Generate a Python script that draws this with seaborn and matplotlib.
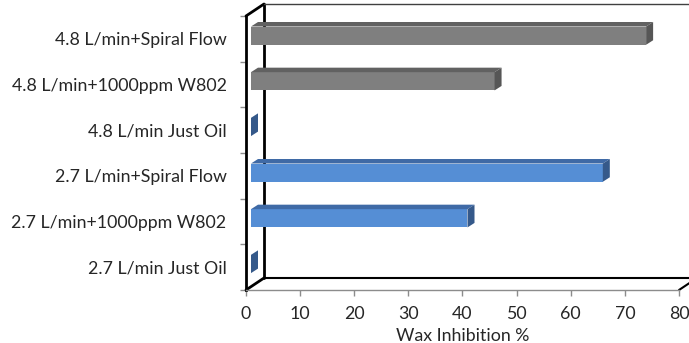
import matplotlib
matplotlib.use("Agg")
import matplotlib.pyplot as plt
from matplotlib.patches import Polygon
from matplotlib.lines import Line2D
from matplotlib.transforms import ScaledTranslation
import seaborn as sns
import pandas as pd

# Data (top to bottom as displayed)
categories = [
    "4.8 L/min+Spiral Flow",
    "4.8 L/min+1000ppm W802",
    "4.8 L/min Just Oil",
    "2.7 L/min+Spiral Flow",
    "2.7 L/min+1000ppm W802",
    "2.7 L/min Just Oil",
]
inhibition = [73, 45, 0, 65, 40, 0]
x_ticks = [0, 10, 20, 30, 40, 50, 60, 70, 80]

# Face colours per bar: front, top, side
front_colors = ["#7F7F7F", "#7F7F7F", "#558ED5", "#558ED5", "#558ED5", "#558ED5"]
top_colors = ["#616161", "#616161", "#3F6AA6", "#3F6AA6", "#3F6AA6", "#3F6AA6"]
side_colors = ["#565656", "#565656", "#35598A", "#35598A", "#35598A", "#35598A"]

DPI = 100
FS = 12.8
sns.set_theme(style="white")
plt.rcParams["font.family"] = ["Lato", "DejaVu Sans"]

fig = plt.figure(figsize=(6.89, 3.43), dpi=DPI)
W, H = 689, 343
ax_left, ax_right, ax_top, ax_bottom = 246, 679, 16, 290
ax = fig.add_axes([ax_left / W, 1 - ax_bottom / H,
                   (ax_right - ax_left) / W, (ax_bottom - ax_top) / H])

df = pd.DataFrame({"category": categories, "value": inhibition})
sns.barplot(data=df, x="value", y="category", hue="category",
            palette=dict(zip(categories, front_colors)), order=categories,
            orient="h", width=0.4, dodge=False, legend=False,
            saturation=1, ax=ax, linewidth=0)

ax.set_xlim(0, 80)
ax.set_ylim(len(categories) - 0.5, -0.5)
ax.set_xticks(x_ticks)
ax.set_xticklabels([str(t) for t in x_ticks])

# 3-D depth: full wall depth and bar placement within it (pixels)
depth = (18, 12)
front_off = (5, 3.2)
bar_depth = (7, 4.5)

to_disp = ax.transData.transform
to_data = ax.transData.inverted().transform
shift = ScaledTranslation(front_off[0] / DPI, front_off[1] / DPI, fig.dpi_scale_trans)

for p in list(ax.patches):
    x0, y0, w, h = p.get_x(), p.get_y(), p.get_width(), p.get_height()
    idx = int(round(y0 + h / 2))
    (xa, ya), (xb, yb) = to_disp([(x0, y0), (x0 + w, y0 + h)])
    left, right = min(xa, xb) + front_off[0], max(xa, xb) + front_off[0]
    bottom, top = min(ya, yb) + front_off[1], max(ya, yb) + front_off[1]
    bx, by = bar_depth
    top_face = [(left, top), (right, top), (right + bx, top + by), (left + bx, top + by)]
    side_face = [(right, bottom), (right + bx, bottom + by), (right + bx, top + by), (right, top)]
    ax.add_patch(Polygon(to_data(top_face), closed=True, facecolor=top_colors[idx],
                         edgecolor="none", clip_on=False, zorder=3))
    ax.add_patch(Polygon(to_data(side_face), closed=True, facecolor=side_colors[idx],
                         edgecolor="none", clip_on=False, zorder=3))
    p.set_transform(ax.transData + shift)
    p.set_clip_on(False)
    p.set_zorder(3)

# Wall / floor frame in axes fractions
aw, ah = ax_right - ax_left, ax_bottom - ax_top
dx, dy = depth[0] / aw, depth[1] / ah
frame = [
    ([dx, dx], [dy, 1 + dy], "black", 2.0),
    ([0, dx], [1, 1 + dy], "black", 2.0),
    ([0, dx], [0, dy], "black", 2.0),
    ([dx, 1.1], [1 + dy, 1 + dy], "#404040", 1.0),
    ([dx, 1 + dx], [dy, dy], "black", 1.5),
    ([1, 1 + dx], [0, dy], "black", 1.5),
]
for xs, ys, c, lw in frame:
    ax.add_line(Line2D(xs, ys, transform=ax.transAxes, color=c, lw=lw,
                       clip_on=False, zorder=1))

for side in ["top", "right"]:
    ax.spines[side].set_visible(False)
ax.spines["left"].set_color("black")
ax.spines["left"].set_linewidth(2.0)
ax.spines["bottom"].set_color("#8C8C8C")
ax.spines["bottom"].set_linewidth(1.0)

# Category boundaries carry the tick marks; labels sit at category centres
ax.set_yticks([i - 0.5 for i in range(len(categories) + 1)], minor=True)
ax.tick_params(axis="y", which="major", length=0, pad=14, labelsize=FS, labelcolor="#262626")
ax.tick_params(axis="y", which="minor", left=True, length=4, width=1, color="#8C8C8C")
ax.tick_params(axis="x", which="major", bottom=True, length=4, width=1, color="#8C8C8C",
               pad=7.5, labelsize=FS, labelcolor="#262626")

ax.set_ylabel("")
ax.set_xlabel("Wax Inhibition %", fontsize=FS, color="#262626", labelpad=4)

fig.savefig("out.png", dpi=DPI)
